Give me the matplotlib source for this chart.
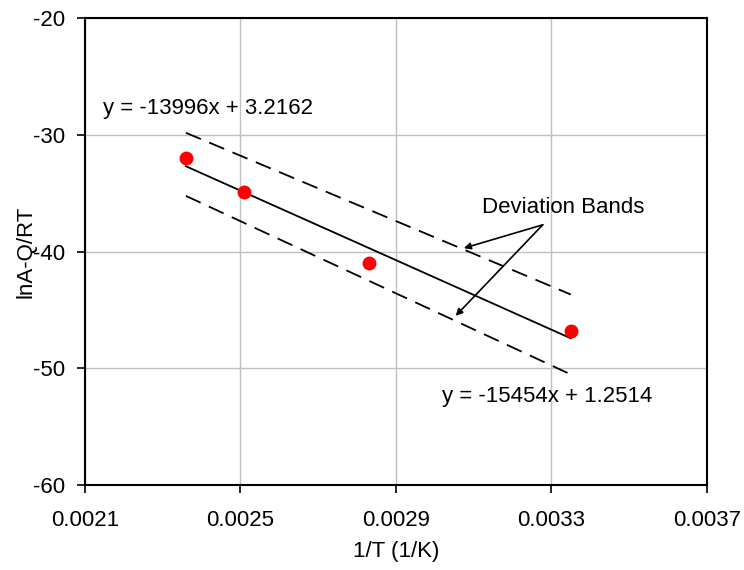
import numpy as np
import matplotlib.pyplot as plt

plt.rcParams['font.family'] = ['Liberation Sans', 'DejaVu Sans']
plt.rcParams['axes.unicode_minus'] = False

# measured points
inv_T = [0.00236, 0.00251, 0.00283, 0.00335]
lnA_QRT = [-32.0, -34.9, -41.0, -46.8]

# deviation band equations (slope, intercept)
upper_band = (-13996, 3.2162)
lower_band = (-15454, 1.2514)

x_ticks = [0.0021, 0.0025, 0.0029, 0.0033, 0.0037]
y_ticks = [-60, -50, -40, -30, -20]

fig = plt.figure(figsize=(7.44, 5.70), dpi=100)
ax = fig.add_axes([0.114, 0.149, 0.836, 0.819])

x = np.array(inv_T)
xr = np.array([x.min(), x.max()])

# regression line through the points
m, b = np.polyfit(x, lnA_QRT, 1)
ax.plot(xr, m * xr + b, color='black', lw=1.3, zorder=3)

# deviation bands
for s, c in (upper_band, lower_band):
    ax.plot(xr, s * xr + c, color='black', lw=1.3, dashes=(9, 5), zorder=3)

ax.plot(x, lnA_QRT, 'o', color='red', markersize=9, zorder=4)

ax.set_xlim(0.0021, 0.0037)
ax.set_ylim(-60, -20)
ax.set_xticks(x_ticks)
ax.set_xticklabels(['%.4f' % v for v in x_ticks])
ax.set_yticks(y_ticks)
ax.grid(True, color='#c0c0c0', lw=1.0)
ax.set_axisbelow(True)
for sp in ax.spines.values():
    sp.set_linewidth(1.5)
ax.tick_params(direction='out', length=6, width=1.2, labelsize=16)
ax.tick_params(axis='x', pad=12)
ax.tick_params(axis='y', pad=8)

ax.set_xlabel('1/T (1/K)', fontsize=16)
ax.set_ylabel('lnA-Q/RT', fontsize=16)
ax.xaxis.set_label_coords(0.5, -0.12)
ax.yaxis.set_label_coords(-0.078, 0.5)

ax.text(0.002146, -27.7, 'y = -13996x + 3.2162', fontsize=16, va='center', ha='left')
ax.text(0.003018, -52.4, 'y = -15454x + 1.2514', fontsize=16, va='center', ha='left')
ax.text(0.00333, -36.2, 'Deviation Bands', fontsize=16, va='center', ha='center')

start = (0.003278, -37.7)
for end in [(0.003075, -39.7), (0.003054, -45.5)]:
    ax.annotate('', xy=end, xytext=start,
                arrowprops=dict(arrowstyle='-|>', color='black', lw=1.2,
                                mutation_scale=10, shrinkA=0, shrinkB=0))

fig.savefig('out.png', dpi=100)
